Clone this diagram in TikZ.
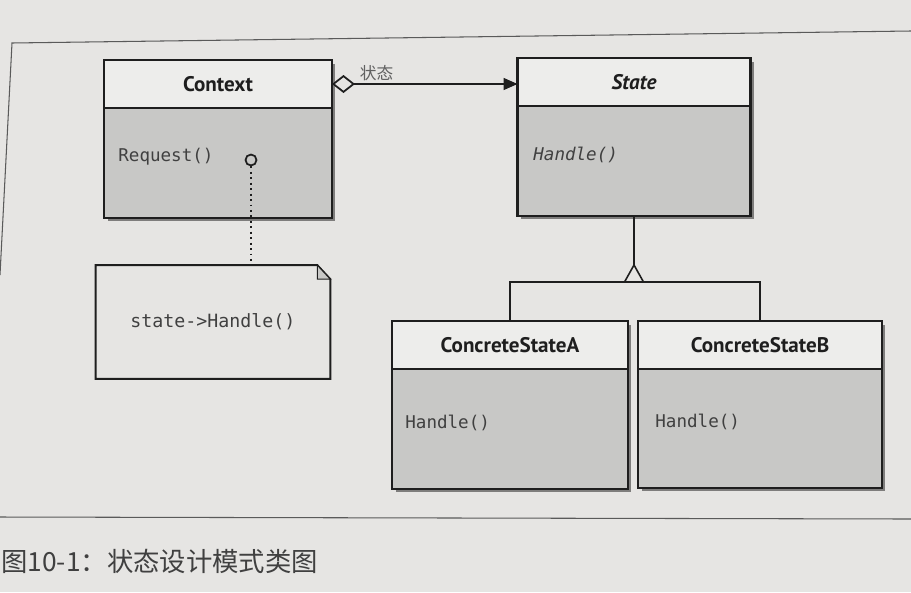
\documentclass[tikz,border=0pt]{standalone}
\usepackage{fontspec}
\setmonofont{DejaVu Sans Mono}
\newfontfamily\classfont{PT Sans}
\newfontfamily\cjk{Noto Sans CJK SC}
\usepackage{tikz}
\usetikzlibrary{arrows.meta, positioning, shadows}

\definecolor{pagebg}{RGB}{230,229,227}
\definecolor{headfill}{RGB}{237,237,235}
\definecolor{bodyfill}{RGB}{200,200,198}
\definecolor{ink}{RGB}{30,30,30}
\definecolor{framecol}{RGB}{90,90,90}

\begin{document}
\begin{tikzpicture}[x=0.02cm, y=-0.02cm,
    boxshadow/.style={drop shadow={shadow xshift=0.07cm, shadow yshift=-0.07cm, fill=black, opacity=0.45}},
    head/.style={draw=ink, line width=1.3pt, fill=headfill, inner sep=0pt, outer sep=0pt, minimum height=0.96cm, text=ink, font=\classfont\fontsize{12}{14}\selectfont\bfseries, boxshadow},
    body/.style={draw=ink, line width=1.3pt, fill=bodyfill, inner sep=0pt, outer sep=0pt, boxshadow},
    method/.style={anchor=west, inner sep=0pt, text=ink!85, font=\ttfamily\fontsize{10}{12}\selectfont},
    aggr/.style={draw=ink, line width=0.8pt, {Diamond[open, length=0.46cm, width=0.36cm, line width=1pt]}-{Triangle[length=0.28cm, width=0.24cm]}},
    notebox/.style={inner sep=0pt, minimum width=4.68cm, minimum height=2.26cm, text=ink!85, font=\ttfamily\fontsize{10.4}{12}\selectfont}
]
    % Page
    \path[use as bounding box, clip] (0,0) rectangle (911,592);
    \fill[pagebg] (0,0) rectangle (911,592);
    \draw[framecol, line width=0.6pt] (0,275) -- (12,43) -- (911,31);
    \draw[framecol, line width=0.6pt] (0,517) -- (911,519);

    % Classes
    \node[head, minimum width=4.56cm] (ctx) at (218,84) {Context};
    \node[body, minimum width=4.56cm, minimum height=2.2cm, below=0pt of ctx] (ctxb) {};
    \node[method] (req) at (118,157) {Request()};

    \node[head, minimum width=4.66cm] (st) at (634,82) {\itshape State};
    \node[body, minimum width=4.66cm, minimum height=2.2cm, below=0pt of st] (stb) {};
    \node[method] (sth) at (533,155) {\itshape Handle()};

    \node[head, minimum width=4.72cm] (csa) at (510,345) {ConcreteStateA};
    \node[body, minimum width=4.72cm, minimum height=2.4cm, below=0pt of csa] (csab) {};
    \node[method] (csah) at (405,423) {Handle()};

    \node[head, minimum width=4.88cm] (csb) at (760,345) {ConcreteStateB};
    \node[body, minimum width=4.88cm, minimum height=2.38cm, below=0pt of csb] (csbb) {};
    \node[method] (csbh) at (655,422) {Handle()};

    % Note
    \node[notebox] (note) at (213,322) {state->Handle()};
    \draw[ink, line width=1.1pt] (note.south west) -- (note.north west) -- ([xshift=-0.26cm]note.north east)
        -- ([yshift=-0.28cm]note.north east) -- (note.south east) -- cycle;
    \filldraw[ink, fill=bodyfill, line width=0.6pt] ([xshift=-0.26cm]note.north east)
        -- ([xshift=-0.26cm, yshift=-0.28cm]note.north east) -- ([yshift=-0.28cm]note.north east) -- cycle;
    \node[circle, draw=ink, line width=1pt, fill=bodyfill, minimum size=0.22cm, inner sep=0pt] (pin) at (251,160) {};
    \draw[ink, line width=1.1pt, dotted] (pin) -- (pin |- note.north);

    % Relations
    \draw[aggr] (ctx.east) -- node[above, pos=0.24, inner sep=1.5pt, text=ink!70, font=\cjk\fontsize{9.5}{11}\selectfont] (lbl) {状态} (ctx.east -| st.west);
    \coordinate (gen) at (634,282);
    \coordinate (tip) at (634,265);
    \draw[ink, line width=0.9pt] (csa.north) |- (gen) -| (csb.north);
    \draw[ink, line width=0.9pt] (stb.south) -- (tip);
    \filldraw[ink, fill=pagebg, line width=0.9pt, line join=miter] ([xshift=-0.19cm]gen) -- (tip) -- ([xshift=0.19cm]gen) -- cycle;

    % Caption
    \node[anchor=west, inner sep=0pt, text=ink!85, font=\cjk\fontsize{15}{17}\selectfont] (cap) at (1,561) {图10-1：状态设计模式类图};
\end{tikzpicture}
\end{document}
